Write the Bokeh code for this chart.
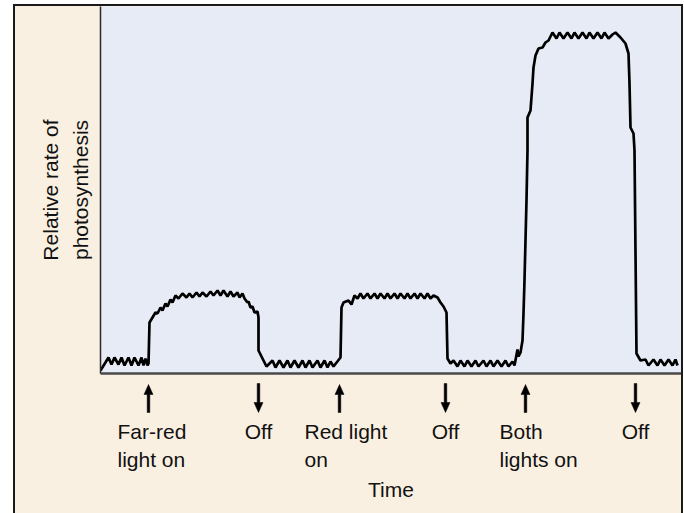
from bokeh.plotting import figure
from bokeh.layouts import column
from bokeh.models import Range1d, FixedTicker, ColumnDataSource
from bokeh.core.properties import value
from bokeh.embed import file_html
from bokeh.resources import INLINE

# ---------------- data ----------------
time_vals = [
    0, 8, 11, 14, 18, 21, 24, 28, 31, 34, 38, 41, 43, 45, 47, 48, 49,
    52, 55, 57, 60, 62, 65, 67, 70, 72, 75, 78, 82, 86, 89, 92, 96, 99, 102, 106, 110,
    113, 117, 120, 123, 127, 130, 133, 137, 139, 142, 144, 147, 148, 150, 152, 154, 157,
    158, 158, 162, 166,
    172, 175, 179, 183, 187, 190, 194, 198, 202, 205, 209, 212, 217, 220, 224, 227, 230,
    233, 240, 241,
    243, 248, 251, 254, 257, 260, 263, 267, 270, 274, 277, 280, 284, 287, 290, 294, 297,
    300, 304, 307, 310, 314, 317, 320, 324, 327, 330, 333, 337, 340, 343, 346, 347, 350,
    353, 357, 360, 364, 367, 371, 375, 378, 383, 386, 390, 393, 397, 401, 405, 408, 412,
    414, 417, 418, 420, 422, 423, 424, 426, 427, 427, 430, 432, 433, 435, 438, 442, 445, 448,
    452, 456, 459, 463, 467, 471, 474, 478, 482, 486, 489, 493, 497, 501, 504, 508, 512,
    515, 520, 525, 528, 529, 530, 533, 534, 536, 540,
    545, 548, 553, 557, 560, 564, 568, 572, 575, 577,
]
rate_vals = [
    3, 16, 9, 16, 9, 16, 8, 16, 8, 16, 8, 16, 8, 15, 8, 10, 51,
    56, 61, 60, 66, 63, 70, 67, 74, 71, 78, 75, 80, 76, 80, 76, 81, 77, 81, 77, 82,
    78, 83, 78, 83, 77, 82, 77, 81, 76, 80, 75, 71, 72, 66, 67, 61, 62,
    56, 23, 15, 7,
    13, 6, 13, 6, 13, 6, 13, 6, 13, 6, 13, 6, 13, 6, 13, 6, 12,
    7, 16, 66,
    71, 73, 69, 78, 75, 80, 75, 80, 75, 80, 75, 80, 75, 80, 75, 80, 75,
    80, 75, 80, 75, 80, 75, 80, 75, 80, 75, 78, 76, 71, 67, 61, 15, 10,
    13, 7, 13, 7, 13, 7, 13, 7, 13, 7, 13, 7, 13, 7, 13, 7, 12,
    8, 24, 17, 21, 33, 60, 93, 173, 223, 256, 263, 290, 306, 318, 325, 326, 331, 333,
    341, 335, 341, 335, 341, 335, 341, 335, 341, 335, 341, 335, 341, 335, 341, 335, 339,
    341, 336, 330, 320, 290, 246, 240, 223, 20, 13,
    14, 8, 14, 8, 14, 8, 14, 8, 14, 8,
]

event_times = [48, 158, 239, 345, 425, 535]
event_kinds = ["on", "off", "on", "off", "on", "off"]
event_labels = ["Far-red\nlight on", "Off", "Red light\non", "Off", "Both\nlights on", "Off"]

x_title = "Time"
y_title = "Relative rate of\nphotosynthesis"

# ---------------- styling / layout ----------------
FONT = "Liberation Sans"
FONT_SIZE = "21px"
BEIGE = "#faf0e1"
PANEL = "#e7ebf5"
INK = "#111111"
label_x_offsets = [-31, 0, -35, 0, -26, 0]
X_RANGE = (0, 581)

# ---- upper panel: the measured trace ----
p = figure(
    frame_width=581, frame_height=367,
    x_range=Range1d(*X_RANGE), y_range=Range1d(0, 367),
    output_backend="svg", toolbar_location=None,
    min_border_left=85, min_border_right=0, min_border_top=0, min_border_bottom=3,
    background_fill_color=PANEL, border_fill_color=BEIGE,
    outline_line_color=None,
)
p.grid.visible = False

for ax in (p.xaxis[0], p.yaxis[0]):
    ax.ticker = FixedTicker(ticks=[])
    ax.major_tick_out = 0
    ax.major_tick_in = 0
    ax.minor_tick_out = 0
    ax.minor_tick_in = 0
    ax.major_label_standoff = 0
    ax.axis_label_text_font = FONT
    ax.axis_label_text_font_size = FONT_SIZE
    ax.axis_label_text_font_style = "normal"
    ax.axis_label_text_color = INK
    ax.axis_label_text_line_height = 1.3

p.xaxis.axis_line_color = "#4a4a4a"
p.xaxis.axis_line_width = 2.5
p.xaxis.axis_label_standoff = 0

p.yaxis.axis_label = y_title
p.yaxis.axis_line_color = "#2a2a2a"
p.yaxis.axis_line_width = 1.5
p.yaxis.axis_label_standoff = 9

p.line(time_vals, rate_vals, line_color="black", line_width=2.7)

# ---- lower panel: light on/off events along the time axis ----
q = figure(
    frame_width=581, frame_height=100,
    x_range=p.x_range, y_range=Range1d(-103, -3),
    output_backend="svg", toolbar_location=None, y_axis_location=None,
    min_border_left=85, min_border_right=0, min_border_top=0, min_border_bottom=37,
    background_fill_color=BEIGE, border_fill_color=BEIGE,
    outline_line_color=None,
)
q.grid.visible = False
qx = q.xaxis[0]
qx.ticker = FixedTicker(ticks=[])
qx.axis_line_color = None
qx.major_tick_out = 0
qx.major_tick_in = 0
qx.minor_tick_out = 0
qx.minor_tick_in = 0
qx.major_label_standoff = 0
qx.axis_label = x_title
qx.axis_label_text_font = FONT
qx.axis_label_text_font_size = FONT_SIZE
qx.axis_label_text_font_style = "normal"
qx.axis_label_text_color = INK
qx.axis_label_standoff = 1

# arrows as filled polygons (x in time units, y in panel units)
SHAFT = 1.3
HEAD_W = 4.5
HEAD_L = 10
arrow_xs, arrow_ys = [], []
for t, kind in zip(event_times, event_kinds):
    if kind == "on":
        base, tip, d = -39, -11, 1
    else:
        base, tip, d = -10, -39, -1
    neck = tip - d * HEAD_L
    arrow_xs.append([t - SHAFT, t - SHAFT, t - HEAD_W, t, t + HEAD_W, t + SHAFT, t + SHAFT])
    arrow_ys.append([base, neck, neck, tip, neck, neck, base])
q.patches(arrow_xs, arrow_ys, fill_color="black", line_color="black", line_width=0.5)

LABEL_TOP = -46
left_src = ColumnDataSource(dict(
    x=[t for t, dx in zip(event_times, label_x_offsets) if dx],
    dx=[dx for dx in label_x_offsets if dx],
    y=[LABEL_TOP for dx in label_x_offsets if dx],
    text=[lab for lab, dx in zip(event_labels, label_x_offsets) if dx],
))
mid_src = ColumnDataSource(dict(
    x=[t for t, dx in zip(event_times, label_x_offsets) if not dx],
    y=[LABEL_TOP for dx in label_x_offsets if not dx],
    text=[lab for lab, dx in zip(event_labels, label_x_offsets) if not dx],
))
common = dict(text_font=value(FONT), text_font_size=FONT_SIZE, text_color=INK,
              text_baseline="top", text_line_height=1.22)
q.text(x="x", y="y", text="text", x_offset="dx", text_align="left", source=left_src, **common)
q.text(x="x", y="y", text="text", text_align="center", source=mid_src, **common)

layout = column(
    p, q, spacing=0,
    styles={
        "margin-left": "13px", "margin-top": "4px", "margin-bottom": "-8px",
        "border-left": "2px solid #1a1a1a", "border-top": "2px solid #1a1a1a",
        "border-right": "2px solid #1a1a1a", "background-color": BEIGE,
    },
)

open("out.html", "w").write(file_html(layout, INLINE))
